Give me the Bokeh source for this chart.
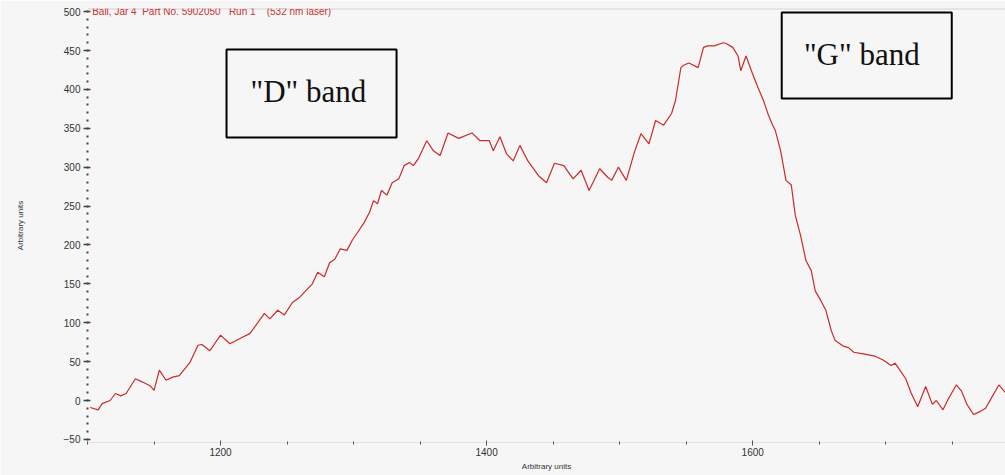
from bokeh.plotting import figure
from bokeh.models import Range1d, SingleIntervalTicker, BoxAnnotation, Label, Span
from bokeh.embed import file_html
from bokeh.resources import INLINE

wavenumber = [1102, 1108, 1111, 1117, 1121, 1125, 1129, 1136, 1141, 1147, 1150, 1154, 1159, 1164,
              1169, 1177, 1183, 1186, 1192, 1200, 1207, 1216, 1222, 1228, 1233, 1237, 1243, 1248,
              1254, 1259, 1264, 1269, 1273, 1278, 1282, 1286, 1290, 1295, 1299, 1303, 1308, 1312,
              1315, 1318, 1321, 1325, 1329, 1334, 1338, 1342, 1345, 1349, 1355, 1360, 1365, 1371,
              1379, 1389, 1395, 1402, 1405, 1410, 1415, 1420, 1425, 1431, 1439, 1445, 1451, 1458,
              1465, 1471, 1477, 1485, 1491, 1494, 1499, 1505, 1511, 1516, 1522, 1527, 1533, 1539,
              1542, 1546, 1548, 1552, 1559, 1563, 1566, 1571, 1578, 1580, 1585, 1589, 1591, 1595,
              1599, 1604, 1608, 1612, 1615, 1617, 1621, 1625, 1629, 1632, 1636, 1640, 1644, 1647,
              1651, 1655, 1659, 1662, 1668, 1672, 1676, 1683, 1692, 1698, 1704, 1707, 1711, 1715,
              1719, 1724, 1730, 1735, 1738, 1743, 1747, 1753, 1757, 1761, 1766, 1770, 1775, 1780,
              1785, 1790]
intensity = [-9, -12, -4, 0, 9, 6, 9, 28, 24, 19, 13, 39, 26, 30,
             32, 49, 71, 72, 64, 84, 73, 81, 86, 100, 112, 105, 116, 110,
             126, 132, 141, 150, 165, 159, 177, 182, 195, 193, 206, 216, 229, 242,
             257, 253, 270, 264, 280, 285, 302, 306, 302, 312, 334, 321, 315, 344,
             337, 344, 334, 334, 321, 339, 317, 308, 328, 308, 289, 280, 305, 302,
             285, 296, 270, 298, 287, 283, 300, 283, 319, 343, 330, 360, 354, 369,
             386, 428, 431, 434, 428, 454, 456, 456, 460, 459, 454, 443, 424, 443,
             424, 402, 386, 366, 354, 347, 321, 283, 277, 238, 212, 180, 167, 141,
             129, 116, 90, 77, 70, 68, 62, 60, 57, 52, 45, 48, 38, 28,
             10, -8, 18, -5, 0, -12, 2, 20, 12, -5, -18, -15, -10, 5,
             20, 10]

NB = "\u00a0"
title_text = ("Ball, Jar 4" + NB * 2 + "Part No. 5902050" + NB * 3 + "Run 1" + NB * 4
              + "(532 nm laser)")
axis_title = "Arbitrary units"
band_labels = ['"D" band', '"G" band']

BG = "#f6f6f6"

p = figure(width=1005, height=475, output_backend="svg", toolbar_location=None,
           x_range=Range1d(1100, 1790), y_range=Range1d(-54, 504),
           min_border_left=87, min_border_right=0, min_border_top=8, min_border_bottom=33)
p.background_fill_color = BG
p.border_fill_color = BG
p.outline_line_color = None
p.grid.visible = False

p.line(wavenumber, intensity, line_color="#cc2a2a", line_width=1.2)

# axes
xa = p.xaxis[0]
xa.ticker = SingleIntervalTicker(interval=200, num_minor_ticks=4)
xa.axis_line_color = "#e2e2e2"
xa.major_tick_in = 2
xa.major_tick_out = 3
xa.minor_tick_in = 1
xa.minor_tick_out = 2
xa.major_tick_line_color = "#555555"
xa.minor_tick_line_color = "#555555"
xa.major_label_text_font = "Liberation Sans"
xa.major_label_text_font_size = "10px"
xa.major_label_text_color = "#333333"
xa.major_label_standoff = 2
xa.axis_label = axis_title
xa.axis_label_text_font = "Liberation Sans"
xa.axis_label_text_font_size = "8px"
xa.axis_label_text_font_style = "normal"
xa.axis_label_text_color = "#333333"
xa.axis_label_standoff = 3

ya = p.yaxis[0]
ya.ticker = SingleIntervalTicker(interval=50, num_minor_ticks=5)
ya.axis_line_color = None
ya.major_tick_in = 3
ya.major_tick_out = 4
ya.minor_tick_in = 1
ya.minor_tick_out = 1
ya.minor_tick_line_width = 2
ya.major_tick_line_width = 1.5
ya.major_tick_line_color = "#444444"
ya.minor_tick_line_color = "#444444"
ya.major_label_text_font = "Liberation Sans"
ya.major_label_text_font_size = "10px"
ya.major_label_text_color = "#333333"
ya.major_label_standoff = 3
ya.axis_label = axis_title
ya.axis_label_text_font = "Liberation Sans"
ya.axis_label_text_font_size = "8px"
ya.axis_label_text_font_style = "normal"
ya.axis_label_text_color = "#333333"
ya.axis_label_standoff = 36

# window frame lines
p.add_layout(Span(location=504, dimension="width", line_color="#d2d2d2", line_width=2))
p.add_layout(BoxAnnotation(left=11, right=13, top=8, bottom=475,
                           left_units="canvas", right_units="canvas",
                           top_units="canvas", bottom_units="canvas",
                           fill_color="#d2d2d2", fill_alpha=1, line_color=None))

# run title in red
p.add_layout(Label(x=1103.5, y=500, text=title_text, text_font="Liberation Sans",
                   text_font_size="10px", text_color="#c83232", text_baseline="middle"))

# band boxes
p.add_layout(BoxAnnotation(left=1204.5, right=1332.3, top=451.3, bottom=338.1,
                           fill_color=None, line_color="black", line_alpha=1, line_width=2))
p.add_layout(BoxAnnotation(left=1621.8, right=1749.6, top=498.9, bottom=388.3,
                           fill_color=None, line_color="black", line_alpha=1, line_width=2))
p.add_layout(Label(x=1266, y=397.3, text=band_labels[0], text_font="Liberation Serif",
                   text_font_size="31px", text_color="#111111", text_align="center",
                   text_baseline="alphabetic"))
p.add_layout(Label(x=1682, y=444.9, text=band_labels[1], text_font="Liberation Serif",
                   text_font_size="31px", text_color="#111111", text_align="center",
                   text_baseline="alphabetic"))

open("out.html", "w").write(file_html(p, INLINE))
